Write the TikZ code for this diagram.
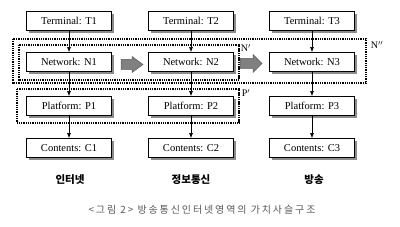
\documentclass[tikz,border=0pt]{standalone}
\usepackage{fontspec}
\setmainfont{Liberation Serif}
\newfontfamily\krfont{Noto Sans CJK KR}
\usetikzlibrary{arrows.meta}
\begin{document}
\begin{tikzpicture}[x=1pt,y=-1pt,
  vbox/.style={draw=black,line width=0.9pt,fill=white,minimum width=85pt,minimum height=19pt,inner sep=0pt,font=\fontsize{10.5}{12}\selectfont},
  shadowbox/.style={fill=black!45},
  dotbox/.style={draw=black,line width=1.2pt,dash pattern=on 1.1pt off 0.7pt},
  conn/.style={-{Latex[length=5pt,width=4pt]},line width=0.6pt},
  blockarrow/.style={fill=black!50,draw=black!65,line width=0.5pt},
  collabel/.style={font=\krfont\bfseries\fontsize{10.5}{12}\selectfont},
  lbl/.style={font=\fontsize{10}{12}\selectfont,inner sep=0pt}
]
\useasboundingbox (0,0) rectangle (400,227);
% dotted groupings
\draw[dotbox] (13,39) rectangle (366,83);
\draw[dotbox] (19,45) rectangle (239,80);
\draw[dotbox] (17,89) rectangle (239,123);
\node[lbl] (np) at (246,48) {N$'$};
\node[lbl] (npp) at (377,45) {N$''$};
\node[lbl] (pp) at (246,93) {P$'$};
% shadows
\foreach \cx in {69,191,312}{
  \foreach \cy in {21,62,106,148}{
    \fill[shadowbox] (\cx-42.5+2.2,\cy-9.5+2.2) rectangle (\cx+42.5+2.2,\cy+9.5+2.2);
  }
}
% boxes
\node[vbox] (T1) at (69,21) {Terminal: T1};
\node[vbox] (T2) at (191,21) {Terminal: T2};
\node[vbox] (T3) at (312,21) {Terminal: T3};
\node[vbox] (N1) at (69,62) {Network: N1};
\node[vbox] (N2) at (191,62) {Network: N2};
\node[vbox] (N3) at (312,62) {Network: N3};
\node[vbox] (P1) at (69,106) {Platform: P1};
\node[vbox] (P2) at (191,106) {Platform: P2};
\node[vbox] (P3) at (312,106) {Platform: P3};
\node[vbox] (C1) at (69,148) {Contents: C1};
\node[vbox] (C2) at (191,148) {Contents: C2};
\node[vbox] (C3) at (312,148) {Contents: C3};
% vertical connectors
\foreach \c in {1,2,3}{
  \draw[conn] (T\c) -- (N\c);
  \draw[conn] (N\c) -- (P\c);
  \draw[conn] (P\c) -- (C\c);
}
% block arrows
\draw[blockarrow] (121,59.5) -- (132,59.5) -- (132,56.5) -- (143,64.5) -- (132,72.5) -- (132,69.5) -- (121,69.5) -- cycle;
\draw[blockarrow] (240,58.5) -- (253,58.5) -- (253,54.5) -- (262,63.5) -- (253,72.5) -- (253,68.5) -- (240,68.5) -- cycle;
% column labels
\node[collabel] (L1) at (70,180) {인터넷};
\node[collabel] (L2) at (191,180) {정보통신};
\node[collabel] (L3) at (314,180) {방송};
% caption
\node[font=\krfont\fontsize{10}{12}\selectfont\addfontfeature{LetterSpace=19},text=black!65] (cap) at (202,210) {<그림 2> 방송통신인터넷영역의 가치사슬구조};
\end{tikzpicture}
\end{document}
